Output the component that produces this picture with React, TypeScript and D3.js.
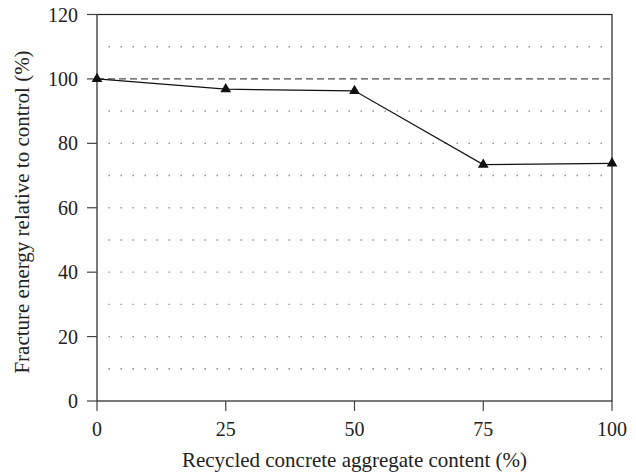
import React from "react";
import * as d3 from "d3";

const rcaContent = [0, 25, 50, 75, 100];
const fractureEnergy = [100, 96.8, 96.3, 73.4, 73.8];
const xTicks = [0, 25, 50, 75, 100];
const yTicks = [0, 20, 40, 60, 80, 100, 120];
const gridLevels = [10, 20, 30, 40, 50, 60, 70, 80, 90, 110];
const referenceLevel = 100;
const xTitle = "Recycled concrete aggregate content (%)";
const yTitle = "Fracture energy relative to control (%)";

export default function App() {
  const W = 636, H = 474;
  const left = 97, right = 612, top = 14.5, bottom = 401;
  const x = d3.scaleLinear().domain([0, 100]).range([left, right]);
  const y = d3.scaleLinear().domain([0, 120]).range([bottom, top]);
  const line = d3.line<number>().x((_, i) => x(rcaContent[i])).y((d) => y(d));
  const tri = d3.symbol().type(d3.symbolTriangle).size(50)();
  const font = "'Liberation Serif', 'Times New Roman', serif";
  return (
    <svg width={W} height={H} style={{ position: "absolute", left: 0, top: 0 }}>
      <rect width={W} height={H} fill="#fff" />
      {gridLevels.map((g) => (
        <line key={g} x1={left + 11.5} x2={right} y1={y(g)} y2={y(g)} stroke="#888" strokeWidth={1.4} strokeDasharray="1.4 10.6" />
      ))}
      <line x1={left} x2={right} y1={y(referenceLevel)} y2={y(referenceLevel)} stroke="#222" strokeWidth={1} strokeDasharray="7 4" />
      <rect x={left} y={top} width={right - left} height={bottom - top} fill="none" stroke="#222" strokeWidth={1.2} />
      {yTicks.map((t) => (
        <g key={t}>
          <line x1={left - 10} x2={left} y1={y(t)} y2={y(t)} stroke="#444" strokeWidth={1.2} />
          <text x={left - 19} y={y(t)} dy="0.35em" textAnchor="end" fontFamily={font} fontSize={20} fill="#222">{t}</text>
        </g>
      ))}
      {xTicks.map((t) => (
        <g key={t}>
          <line x1={x(t)} x2={x(t)} y1={bottom} y2={bottom + 10} stroke="#444" strokeWidth={1.2} />
          <text x={x(t)} y={436} textAnchor="middle" fontFamily={font} fontSize={20} fill="#222">{t}</text>
        </g>
      ))}
      <path d={line(fractureEnergy) || ""} fill="none" stroke="#111" strokeWidth={1.2} />
      {fractureEnergy.map((v, i) => (
        <path key={i} d={tri || ""} transform={`translate(${x(rcaContent[i])},${y(v)})`} fill="#111" />
      ))}
      <text x={(left + right) / 2} y={467} textAnchor="middle" fontFamily={font} fontSize={21} fill="#222">{xTitle}</text>
      <text transform={`translate(29,${212}) rotate(-90)`} textAnchor="middle" fontFamily={font} fontSize={21} fill="#222">{yTitle}</text>
    </svg>
  );
}
